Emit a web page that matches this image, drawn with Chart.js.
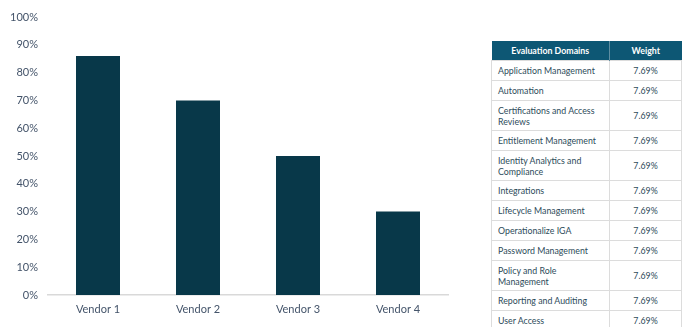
<!DOCTYPE html>
<html>
<head>
<meta charset="utf-8">
<script src="https://cdn.jsdelivr.net/npm/chart.js@4.4.0/dist/chart.umd.min.js"></script>
<style>
  html, body { margin: 0; padding: 0; background: #fff; }
  body { width: 688px; height: 327px; position: relative; overflow: hidden; font-family: Lato, "Open Sans", sans-serif; }
  #chartBox { position: absolute; left: 0; top: 0; width: 460px; height: 327px; }
  #domains { position: absolute; left: 491px; top: 41px; width: 190px; border-collapse: collapse; table-layout: fixed; font-size: 8.8px; color: #2d4b5a; }
  #domains th { background: #0d5774; color: #fff; font-weight: bold; height: 19px; padding: 0; border-left: 1px solid #5f8ea2; }
  #domains th:first-child { border-left: none; }
  #domains td { border: 1px solid #dcdcdc; padding: 0 6px; height: 19px; line-height: 11px; }
  #domains tr.two td { height: 29px; }
  #domains td.w { text-align: center; }
</style>
</head>
<body>
<div id="chartBox"><canvas id="bars"></canvas></div>
<table id="domains">
  <colgroup><col style="width:118px"><col style="width:72px"></colgroup>
  <thead><tr><th>Evaluation Domains</th><th>Weight</th></tr></thead>
  <tbody id="rows"></tbody>
</table>
<script>
// ------- data -------
const vendors = ['Vendor 1', 'Vendor 2', 'Vendor 3', 'Vendor 4'];
const scores  = [86, 70, 50, 30];
const yTicks  = [0, 10, 20, 30, 40, 50, 60, 70, 80, 90, 100];

const domains = [
  'Application Management', 'Automation', 'Certifications and Access Reviews',
  'Entitlement Management', 'Identity Analytics and Compliance', 'Integrations',
  'Lifecycle Management', 'Operationalize IGA', 'Password Management',
  'Policy and Role Management', 'Reporting and Auditing', 'User Access'
];
const weights = ['7.69%', '7.69%', '7.69%', '7.69%', '7.69%', '7.69%',
                 '7.69%', '7.69%', '7.69%', '7.69%', '7.69%', '7.69%'];
// where the reference wraps the long names
const wrapAt = { 'Certifications and Access Reviews': 25, 'Identity Analytics and Compliance': 22, 'Policy and Role Management': 15 };

// ------- table -------
const tbody = document.getElementById('rows');
domains.forEach((d, i) => {
  const tr = document.createElement('tr');
  const td1 = document.createElement('td');
  if (wrapAt[d]) {
    tr.className = 'two';
    td1.appendChild(document.createTextNode(d.slice(0, wrapAt[d])));
    td1.appendChild(document.createElement('br'));
    td1.appendChild(document.createTextNode(d.slice(wrapAt[d] + 1)));
  } else {
    td1.textContent = d;
  }
  const td2 = document.createElement('td');
  td2.className = 'w';
  td2.textContent = weights[i];
  tr.appendChild(td1); tr.appendChild(td2);
  tbody.appendChild(tr);
});

// ------- chart -------
const textColor = '#44546a';
new Chart(document.getElementById('bars'), {
  type: 'bar',
  data: {
    labels: vendors,
    datasets: [{ data: scores, backgroundColor: '#083849', borderWidth: 0,
                 barPercentage: 0.44, categoryPercentage: 1 }]
  },
  options: {
    animation: false,
    responsive: true,
    maintainAspectRatio: false,
    layout: { padding: { top: 17, right: 12, bottom: 0, left: 0 } },
    plugins: { legend: { display: false }, tooltip: { enabled: false } },
    scales: {
      x: {
        grid: { display: false, drawTicks: false },
        border: { display: true, color: '#d9d9d9', width: 1.5 },
        ticks: { color: textColor, font: { family: 'Lato', size: 11 }, padding: 8 },
        afterFit: s => { s.height = 32; }
      },
      y: {
        min: 0, max: 100,
        afterBuildTicks: s => { s.ticks = yTicks.map(v => ({ value: v })); },
        grid: { display: false, drawTicks: false },
        border: { display: false },
        ticks: { color: textColor, font: { family: 'Lato', size: 11 }, padding: 10,
                 callback: v => v + '%' },
        afterFit: s => { s.width = 48; }
      }
    }
  }
});
</script>
</body>
</html>
